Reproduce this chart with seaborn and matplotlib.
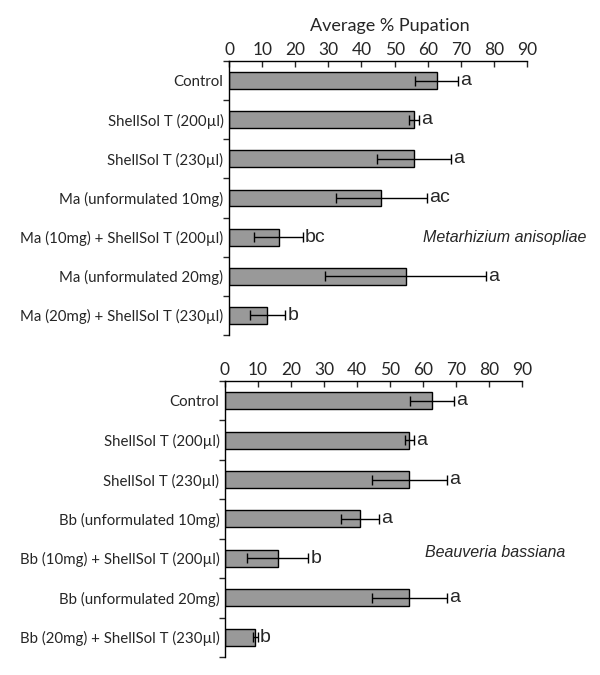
import seaborn as sns
import matplotlib.pyplot as plt
import pandas as pd

# Data
ma_labels = ["Control", "ShellSol T (200µl)", "ShellSol T (230µl)", "Ma (unformulated 10mg)",
             "Ma (10mg) + ShellSol T (200µl)", "Ma (unformulated 20mg)", "Ma (20mg) + ShellSol T (230µl)"]
ma_means = [62.7, 55.9, 55.9, 46.0, 15.0, 53.3, 11.6]
ma_errs = [6.6, 1.6, 11.2, 13.7, 7.4, 24.3, 5.4]
ma_letters = ["a", "a", "a", "ac", "bc", "a", "b"]

bb_labels = ["Control", "ShellSol T (200µl)", "ShellSol T (230µl)", "Bb (unformulated 10mg)",
             "Bb (10mg) + ShellSol T (200µl)", "Bb (unformulated 20mg)", "Bb (20mg) + ShellSol T (230µl)"]
bb_means = [62.7, 55.9, 55.9, 40.9, 16.0, 55.9, 9.2]
bb_errs = [6.6, 1.5, 11.3, 5.9, 9.3, 11.3, 0.8]
bb_letters = ["a", "a", "a", "a", "b", "a", "b"]

sns.set_style("white")
plt.rcParams["font.family"] = ["Lato", "DejaVu Sans"]
arial = ["Liberation Sans", "DejaVu Sans"]

fig = plt.figure(figsize=(6, 6.75), dpi=100)
ax1 = fig.add_axes([0.3817, 0.5037, 0.4967, 0.406])
ax2 = fig.add_axes([0.375, 0.0267, 0.495, 0.409])


def draw_panel(ax, labels, means, errs, letters, species, sp_x, sp_y):
    df = pd.DataFrame({"Treatment": labels, "Mean": means})
    sns.barplot(data=df, x="Mean", y="Treatment", orient="h", color="#999999",
                edgecolor="black", linewidth=1.0, width=0.43, errorbar=None, ax=ax,
                saturation=1)
    ax.errorbar(means, range(len(means)), xerr=errs, fmt="none", ecolor="black",
                elinewidth=1.0, capsize=3.5, capthick=1.0)
    for i, (m, e, t) in enumerate(zip(means, errs, letters)):
        ax.text(m + e + 0.6, i, t, va="center", ha="left", fontsize=14, family=arial)
    ax.text(sp_x, sp_y, species, fontsize=11.5, style="italic", va="center", ha="left",
            family=arial)

    ax.set_xlim(0, 90)
    ax.set_ylim(6.5, -0.5)
    ax.set_xticks(range(0, 91, 10))
    ax.xaxis.tick_top()
    ax.tick_params(axis="x", direction="in", length=4, width=1, labelsize=12.5, pad=2,
                   top=True, bottom=False)
    ax.set_yticks(range(len(labels)))
    ax.set_yticklabels(labels)
    ax.tick_params(axis="y", length=0, labelsize=10.8, pad=4)
    ax.set_yticks([i - 0.5 for i in range(len(labels) + 1)], minor=True)
    ax.tick_params(axis="y", which="minor", direction="out", length=4, width=1, left=True)
    for s in ["right", "bottom"]:
        ax.spines[s].set_visible(False)
    for s in ["top", "left"]:
        ax.spines[s].set_color("black")
        ax.spines[s].set_linewidth(1.0)
    ax.set_ylabel("")
    ax.set_xlabel("")


draw_panel(ax1, ma_labels, ma_means, ma_errs, ma_letters, "Metarhizium anisopliae", 58.6, 4.0)
draw_panel(ax2, bb_labels, bb_means, bb_errs, bb_letters, "Beauveria bassiana", 60.5, 3.85)

ax1.set_xlabel("Average % Pupation", fontsize=13)
ax1.xaxis.set_label_position("top")
ax1.xaxis.set_label_coords(0.54, 1.11)

fig.savefig("out.png", dpi=100)
plt.close(fig)
